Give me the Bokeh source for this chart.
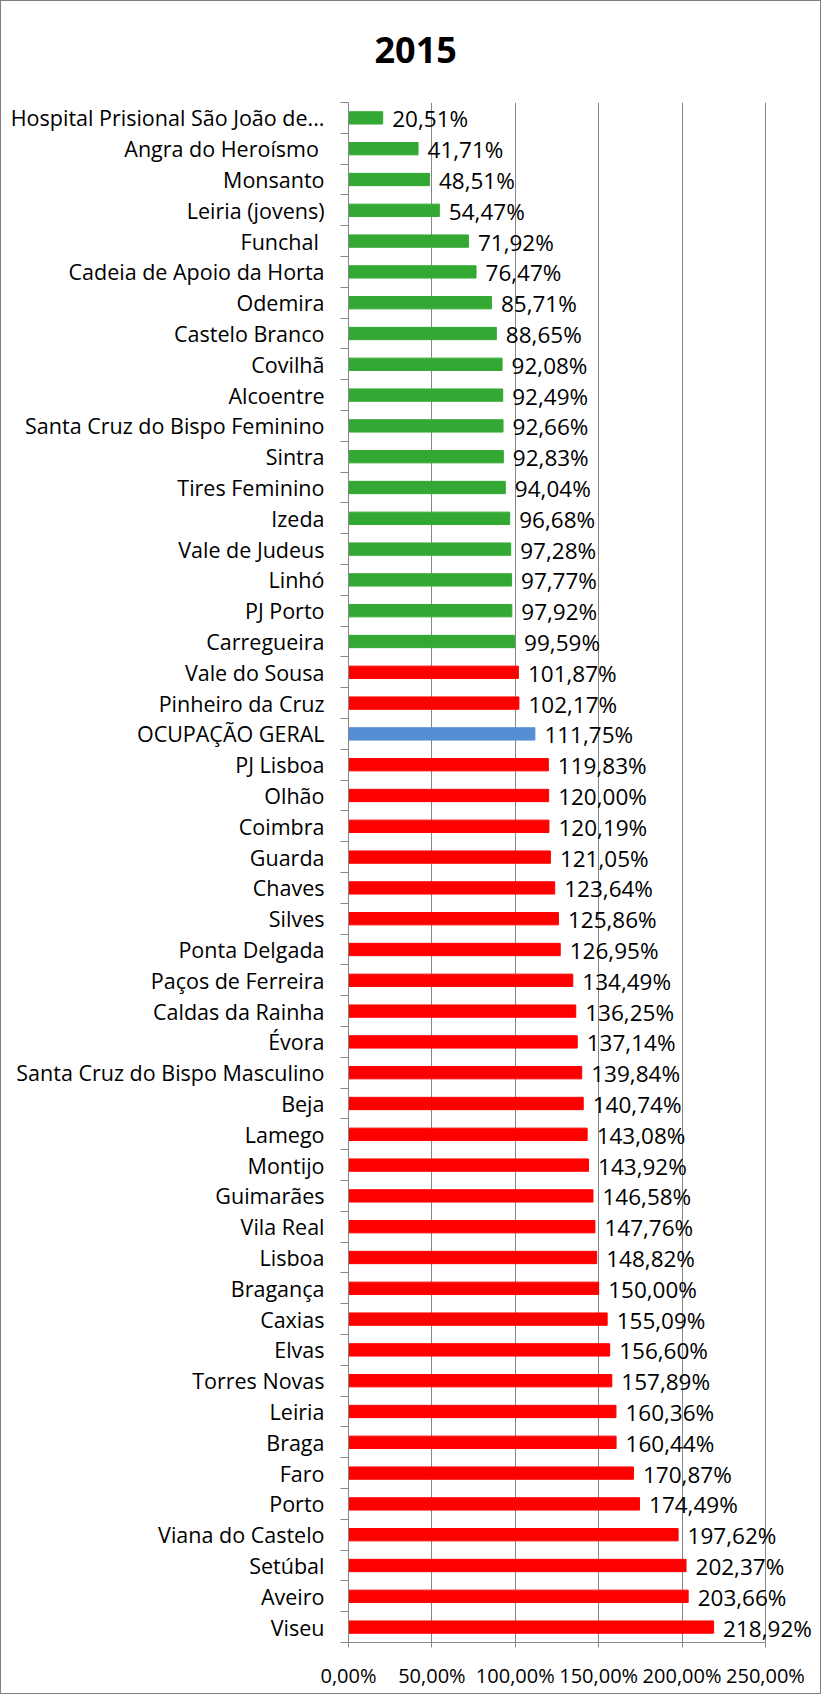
from bokeh.plotting import figure
from bokeh.models import Range1d, FixedTicker, ColumnDataSource, LinearAxis
from bokeh.core.properties import value
from bokeh.embed import file_html
from bokeh.resources import INLINE

title_text = "2015"

categories = [
    "Hospital Prisional São João de...", "Angra do Heroísmo ", "Monsanto", "Leiria (jovens)",
    "Funchal ", "Cadeia de Apoio da Horta", "Odemira", "Castelo Branco", "Covilhã",
    "Alcoentre", "Santa Cruz do Bispo Feminino", "Sintra", "Tires Feminino", "Izeda",
    "Vale de Judeus", "Linhó", "PJ Porto", "Carregueira", "Vale do Sousa",
    "Pinheiro da Cruz", "OCUPAÇÃO GERAL", "PJ Lisboa", "Olhão", "Coimbra", "Guarda",
    "Chaves", "Silves", "Ponta Delgada", "Paços de Ferreira", "Caldas da Rainha",
    "Évora", "Santa Cruz do Bispo Masculino", "Beja", "Lamego", "Montijo",
    "Guimarães", "Vila Real", "Lisboa", "Bragança", "Caxias", "Elvas",
    "Torres Novas", "Leiria", "Braga", "Faro", "Porto", "Viana do Castelo",
    "Setúbal", "Aveiro", "Viseu",
]

occupancy = [
    20.51, 41.71, 48.51, 54.47, 71.92, 76.47, 85.71, 88.65, 92.08, 92.49,
    92.66, 92.83, 94.04, 96.68, 97.28, 97.77, 97.92, 99.59, 101.87, 102.17,
    111.75, 119.83, 120.00, 120.19, 121.05, 123.64, 125.86, 126.95, 134.49, 136.25,
    137.14, 139.84, 140.74, 143.08, 143.92, 146.58, 147.76, 148.82, 150.00, 155.09,
    156.60, 157.89, 160.36, 160.44, 170.87, 174.49, 197.62, 202.37, 203.66, 218.92,
]

x_ticks = [0, 50, 100, 150, 200, 250]
x_tick_labels = ["0,00%", "50,00%", "100,00%", "150,00%", "200,00%", "250,00%"]

GREEN = "#33A933"
RED = "#FF0000"
BLUE = "#558ED5"
GRID = "#868686"
FONT = "Open Sans"

n = len(categories)
idx = list(range(n))
colors = [BLUE if c == "OCUPAÇÃO GERAL" else (GREEN if v < 100 else RED)
          for c, v in zip(categories, occupancy)]
labels = [f"{v:.2f}".replace(".", ",") + "%" for v in occupancy]

src = ColumnDataSource(dict(y=idx, v=occupancy, c=colors, lab=labels))

p = figure(width=821, height=1694, output_backend="svg", toolbar_location=None,
           x_range=Range1d(0, 284.2), y_range=Range1d(n - 0.5, -0.5),
           min_border_left=347, min_border_right=0, min_border_top=101,
           min_border_bottom=53)
p.styles = {"border": "1px solid #808080"}
p.outline_line_color = None
p.background_fill_color = "white"
p.border_fill_color = "white"

# invisible spacer axis above the frame, so that the title sits higher
spacer = LinearAxis(ticker=FixedTicker(ticks=[0]), axis_line_color=None,
                    major_tick_line_color=None, minor_tick_line_color=None,
                    major_tick_out=35, major_tick_in=0, minor_tick_out=0,
                    major_label_standoff=0, major_label_text_font_size="1px",
                    major_label_text_color=None)
p.add_layout(spacer, "above")

p.title.text = title_text
p.title.text_font = FONT
p.title.text_font_size = "36px"
p.title.text_font_style = "bold"
p.title.text_color = "black"
p.title.align = "left"
p.title.offset = 26
p.title.standoff = 10

p.hbar(y="y", right="v", left=0, height=0.4, color="c", source=src)
p.text(x="v", y="y", text="lab", source=src, x_offset=9.5, y_offset=1,
       text_align="left", text_baseline="middle",
       text_font=value(FONT), text_font_size="22.5px", text_color="black")

# x axis
xax = p.below[0]
xax.ticker = FixedTicker(ticks=x_ticks)
xax.major_label_overrides = {t: l for t, l in zip(x_ticks, x_tick_labels)}
xax.bounds = (0, 250)
xax.axis_line_color = GRID
xax.major_tick_line_color = GRID
xax.major_tick_out = 5
xax.major_tick_in = 0
xax.minor_tick_line_color = None
xax.major_label_standoff = 14
xax.major_label_text_font = FONT
xax.major_label_text_font_size = "20px"
xax.major_label_text_color = "black"

# y axis
p.yaxis.ticker = FixedTicker(ticks=idx, minor_ticks=[i - 0.5 for i in range(n + 1)])
p.yaxis.major_label_overrides = {i: c for i, c in zip(idx, categories)}
p.yaxis.axis_line_color = GRID
p.yaxis.major_tick_out = 0
p.yaxis.major_tick_in = 0
p.yaxis.minor_tick_out = 8
p.yaxis.minor_tick_in = 0
p.yaxis.minor_tick_line_color = GRID
p.yaxis.major_label_standoff = 16
p.yaxis.major_label_text_font = FONT
p.yaxis.major_label_text_font_size = "21.5px"
p.yaxis.major_label_text_color = "black"

p.xgrid.ticker = FixedTicker(ticks=x_ticks)
p.xgrid.grid_line_color = GRID
p.xgrid.grid_line_width = 1
p.ygrid.grid_line_color = None

open("out.html", "w").write(file_html(p, INLINE))
